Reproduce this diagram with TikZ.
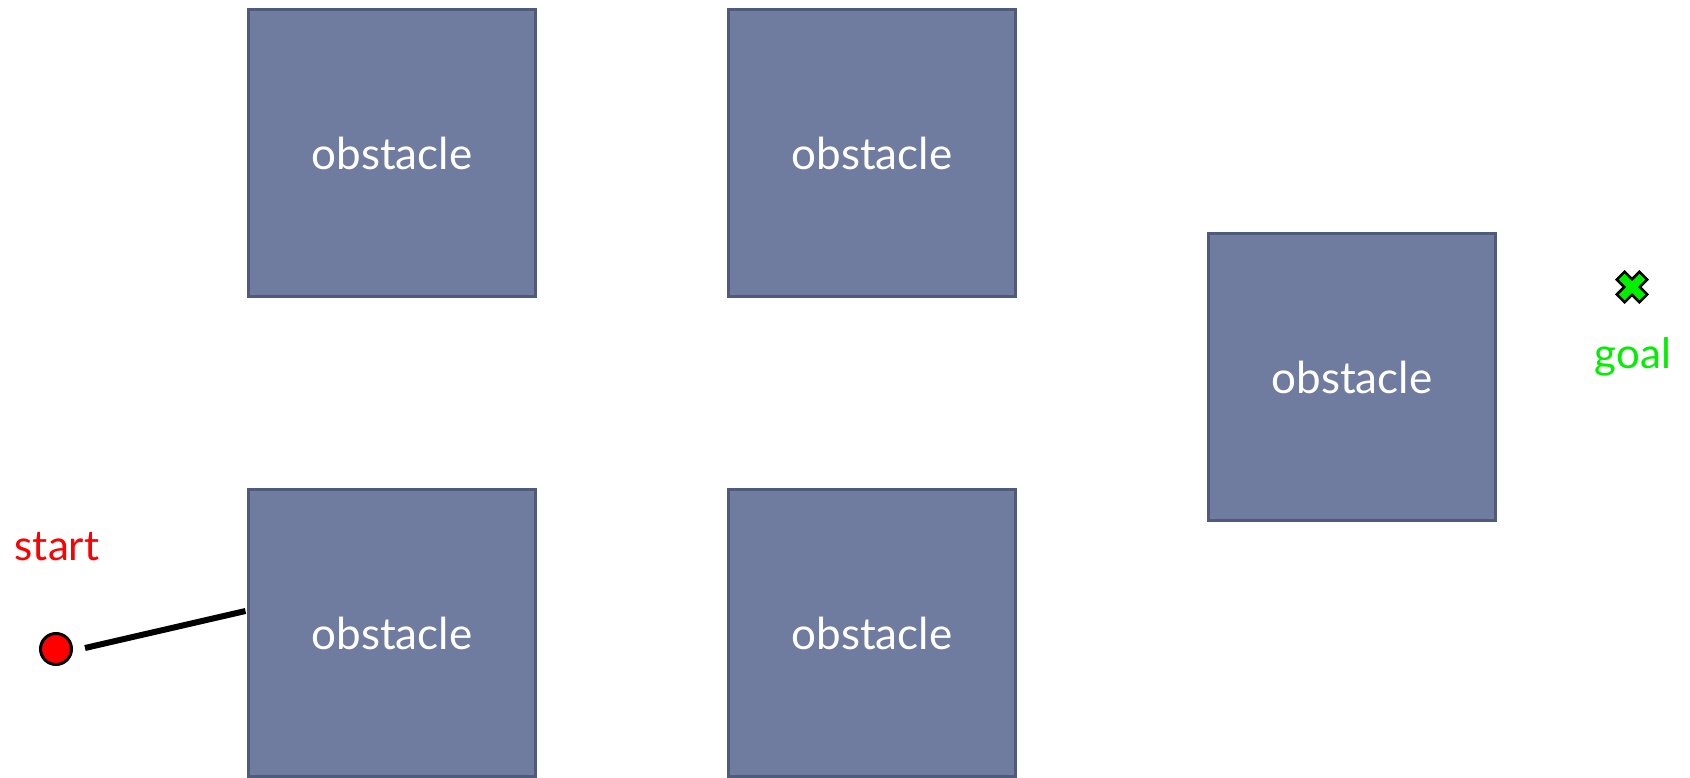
\documentclass[tikz,border=0pt]{standalone}
\usepackage{fontspec}
\setmainfont{Lato}
\definecolor{obsfill}{HTML}{707BA0}
\definecolor{obsdraw}{HTML}{505A7A}
\definecolor{goalgreen}{HTML}{00F000}
\begin{document}
\begin{tikzpicture}[x=1pt,y=-1pt,
  obstaclebox/.style={draw=obsdraw,line width=3pt,fill=obsfill,minimum width=287pt,minimum height=287pt,inner sep=0pt,text=white,font=\fontsize{44}{50}\selectfont},
  label/.style={inner sep=0pt,font=\fontsize{42}{48}\selectfont},
  pathline/.style={line width=6pt}]
\useasboundingbox (0,0) rectangle (1690,778);
\fill[white] (0,0) rectangle (1690,778);
\node[obstaclebox] (o1) at (392,153) {obstacle};
\node[obstaclebox] (o2) at (872,153) {obstacle};
\node[obstaclebox] (o3) at (392,633) {obstacle};
\node[obstaclebox] (o4) at (872,633) {obstacle};
\node[obstaclebox] (o5) at (1352,377) {obstacle};
\node[circle,draw=black,line width=3pt,fill=red,minimum size=31pt,inner sep=0pt] (start) at (56,649) {};
\node[label,text=red,anchor=base] (starttext) at (57,560) {start};
\node[label,text=goalgreen,anchor=base] (goaltext) at (1633,368) {goal};
\coordinate (goal) at (1632,287);
\coordinate (p0) at (85,648);
\coordinate (p1) at (245.5,611);
\draw[pathline] (p0) -- (p1);
\begin{scope}[shift={(goal)},rotate=45]
\draw[fill=goalgreen,line width=2.5pt,line join=miter]
  (-5.5,-16) -- (5.5,-16) -- (5.5,-5.5) -- (16,-5.5) -- (16,5.5) -- (5.5,5.5)
  -- (5.5,16) -- (-5.5,16) -- (-5.5,5.5) -- (-16,5.5) -- (-16,-5.5) -- (-5.5,-5.5) -- cycle;
\end{scope}
\end{tikzpicture}
\end{document}
